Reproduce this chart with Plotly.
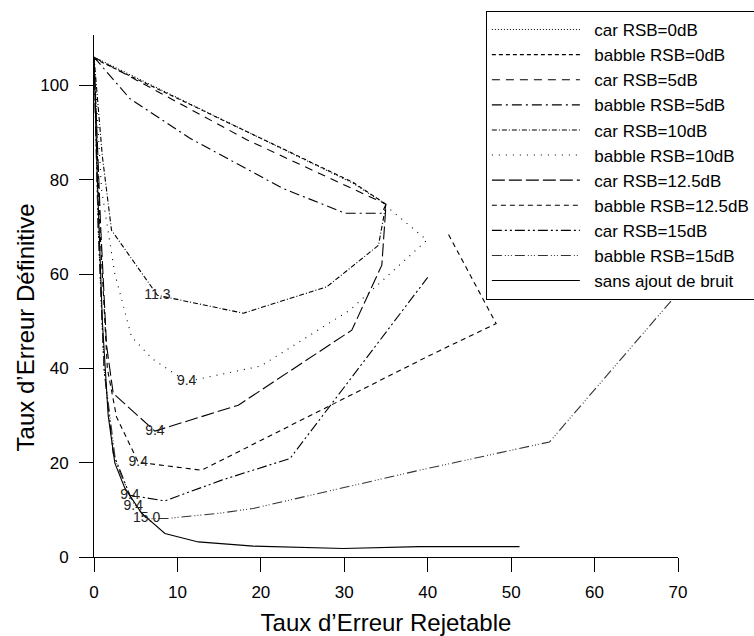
import plotly.graph_objects as go

# ---- data ----
series_names = ["car RSB=0dB", "babble RSB=0dB", "car RSB=5dB", "babble RSB=5dB",
                "car RSB=10dB", "babble RSB=10dB", "car RSB=12.5dB", "babble RSB=12.5dB",
                "car RSB=15dB", "babble RSB=15dB", "sans ajout de bruit"]

car0_x = [0.0, 31.0, 35.0]
car0_y = [106.0, 79.3, 74.8]

babble0_x = [0.0, 31.0, 35.0]
babble0_y = [105.7, 79.5, 74.8]

car5_x = [0.0, 18.3, 35.0]
car5_y = [106.0, 88.5, 74.8]

babble5_x = [0.0, 4.3, 11.5, 22.6, 30.1, 34.5, 35.0]
babble5_y = [106.0, 97.2, 88.8, 78.2, 72.9, 72.9, 74.8]

car10_x = [0.0, 1.0, 2.1, 7.6, 17.9, 27.9, 34.1, 35.0]
car10_y = [106.0, 85.0, 69.3, 55.5, 51.7, 57.3, 66.1, 74.8]

babble10_x = [0.0, 0.9, 2.5, 4.5, 7.0, 11.1, 20.0, 30.7, 39.9, 34.9]
babble10_y = [106.0, 78.0, 60.0, 46.7, 42.0, 37.2, 40.5, 52.4, 67.2, 74.6]

car125_x = [0.0, 0.8, 1.5, 2.3, 7.3, 17.3, 30.9, 34.5, 35.0]
car125_y = [106.0, 70.0, 45.0, 34.7, 26.7, 32.2, 48.1, 61.9, 74.8]

babble125_x = [0.0, 0.7, 1.6, 2.7, 5.3, 12.9, 40.3, 48.2, 42.4]
babble125_y = [106.0, 70.0, 40.0, 29.7, 20.1, 18.4, 42.8, 49.5, 68.7]

car15_x = [0.0, 0.5, 1.2, 2.3, 4.3, 8.5, 15.3, 23.5, 40.0]
car15_y = [106.0, 70.0, 40.0, 22.0, 13.1, 11.9, 16.3, 20.9, 59.3]

babble15_x = [0.0, 0.5, 1.2, 2.6, 4.7, 6.3, 8.9, 15.1, 19.1, 39.0, 54.6, 70.0]
babble15_y = [106.0, 70.0, 40.0, 20.0, 11.5, 8.1, 8.2, 9.3, 10.3, 18.4, 24.4, 56.0]

clean_x = [0.0, 0.4, 1.0, 1.7, 2.5, 3.7, 5.7, 8.5, 12.5, 19.1, 29.9, 39.0, 51.0]
clean_y = [106.0, 80.0, 50.0, 30.0, 19.9, 14.6, 9.3, 5.0, 3.2, 2.3, 1.8, 2.2, 2.2]

label_text = ["11.3", "9.4", "9.4", "9.4", "9.4", "9.4", "15.0"]
label_x = [7.6, 11.1, 7.3, 5.3, 4.3, 4.7, 6.3]
label_y = [55.5, 37.2, 26.7, 20.1, 13.1, 10.8, 8.1]

x_ticks = [0, 10, 20, 30, 40, 50, 60, 70]
y_ticks = [0, 20, 40, 60, 80, 100]

# ---- styles ----
all_x = [car0_x, babble0_x, car5_x, babble5_x, car10_x, babble10_x,
         car125_x, babble125_x, car15_x, babble15_x, clean_x]
all_y = [car0_y, babble0_y, car5_y, babble5_y, car10_y, babble10_y,
         car125_y, babble125_y, car15_y, babble15_y, clean_y]
dashes = ["1px,2px", "4px,3px", "8px,6px", "10px,4px,2px,4px", "5px,2px,1px,2px",
          "1px,6px", "13px,4px", "5px,4px", "10px,3px,2px,3px,2px,3px",
          "10px,3px,1px,2px,1px,2px,1px,3px", "solid"]
colors = ["black"] * 9 + ["#333333", "black"]

FONT = "Liberation Sans, Arial, Helvetica, sans-serif"
PAD = "\u00a0\u00a0"

fig = go.Figure()
for i, name in enumerate(series_names):
    fig.add_trace(go.Scatter(
        x=all_x[i], y=all_y[i], mode="lines", name=PAD + name,
        legendgroup=f"g{i}",
        line=dict(color=colors[i], width=1.1, dash=dashes[i]),
    ))

fig.add_trace(go.Scatter(
    x=label_x, y=label_y, mode="text", text=label_text,
    textfont=dict(family=FONT, size=14, color="#222222"),
    showlegend=False, hoverinfo="skip",
))

fig.update_layout(
    width=754, height=636,
    margin=dict(l=94, r=76, t=35, b=79, autoexpand=False),
    paper_bgcolor="white", plot_bgcolor="white",
    font=dict(family=FONT, color="black"),
    showlegend=True,
    legend=dict(
        x=0.671, y=1.046, xanchor="left", yanchor="top",
        bgcolor="white", bordercolor="black", borderwidth=1,
        font=dict(family=FONT, size=17, color="black"),
        tracegroupgap=0, itemwidth=88,
    ),
    xaxis=dict(
        range=[0, 70], tickvals=x_ticks, showline=True, linecolor="black", linewidth=1,
        ticks="outside", ticklen=14, tickcolor="black", tickwidth=1,
        showgrid=False, zeroline=False, tickfont=dict(size=17),
        ticklabelstandoff=6,
        title=dict(text="Taux d’Erreur Rejetable", font=dict(size=24), standoff=12),
    ),
    yaxis=dict(
        range=[0, 110.7], tickvals=y_ticks, showline=True, linecolor="black", linewidth=1,
        ticks="outside", ticklen=14, tickcolor="black", tickwidth=1,
        showgrid=False, zeroline=False, tickfont=dict(size=17),
        ticklabelstandoff=7,
    ),
    annotations=[dict(
        text="Taux d’Erreur Définitive", xref="paper", yref="paper",
        x=-0.118, y=0.44, textangle=-90, showarrow=False,
        font=dict(size=24, family=FONT), xanchor="center", yanchor="middle",
    )],
)

fig.write_html("out.html")
